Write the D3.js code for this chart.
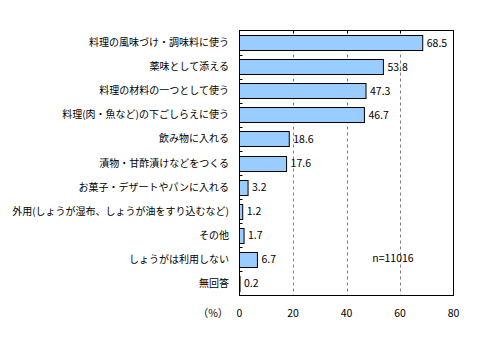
<!DOCTYPE html>
<html><head><meta charset="utf-8">
<script src="https://cdn.jsdelivr.net/npm/d3@7"></script>
<style>
body{margin:0;background:#fff;}
text{font-family:"Noto Sans CJK JP","Noto Sans",sans-serif;fill:#000;}
</style></head>
<body><svg id="c" width="493" height="340"></svg>
<script>
const categories = ["料理の風味づけ・調味料に使う","薬味として添える","料理の材料の一つとして使う","料理(肉・魚など)の下ごしらえに使う","飲み物に入れる","漬物・甘酢漬けなどをつくる","お菓子・デザートやパンに入れる","外用(しょうが湿布、しょうが油をすり込むなど)","その他","しょうがは利用しない","無回答"];
const values = [68.5,53.8,47.3,46.7,18.6,17.6,3.2,1.2,1.7,6.7,0.2];
const xTicks = [0,20,40,60,80];
const note = "n=11016";
const unit = "（%）";

const svg = d3.select("#c");
const L=239.5, R=453.5, T=30.5, B=295.5;
const x = d3.scaleLinear().domain([0,80]).range([L,R]);
const y = d3.scaleBand().domain(categories).range([T,B]).paddingInner(0.38).paddingOuter(0.19);
const yb = d3.scaleBand().domain(categories).range([T,B]);

svg.append("g").selectAll("line").data(xTicks.filter(d=>d>0&&d<80)).join("line")
  .attr("x1",d=>Math.round(x(d))+0.5).attr("x2",d=>Math.round(x(d))+0.5)
  .attr("y1",T).attr("y2",B).attr("stroke","#808080").attr("stroke-dasharray","3,3");

svg.append("g").selectAll("rect").data(values).join("rect")
  .attr("x",x(0)).attr("y",(d,i)=>Math.round(y(categories[i]))+0.5)
  .attr("width",d=>x(d)-x(0)).attr("height",Math.round(y.bandwidth()))
  .attr("fill","#99CCFF").attr("stroke","#000").attr("stroke-width",1);

svg.append("rect").attr("x",L).attr("y",T).attr("width",R-L).attr("height",B-T)
  .attr("fill","none").attr("stroke","#000");

svg.append("g").selectAll("line").data(xTicks.filter(d=>d>0&&d<80)).join("line")
  .attr("x1",d=>Math.round(x(d))+0.5).attr("x2",d=>Math.round(x(d))+0.5)
  .attr("y1",T).attr("y2",T+3).attr("stroke","#000");
svg.append("g").selectAll("line").data(categories.slice(1)).join("line")
  .attr("x1",L).attr("x2",L+3)
  .attr("y1",d=>Math.round(yb(d))+0.5).attr("y2",d=>Math.round(yb(d))+0.5).attr("stroke","#000");

svg.append("g").selectAll("text").data(categories).join("text")
  .attr("x",229).attr("y",d=>yb(d)+yb.bandwidth()/2).attr("dy","0.35em")
  .attr("text-anchor","end").attr("font-size",10).text(d=>d);

svg.append("g").selectAll("text").data(values).join("text")
  .attr("x",d=>x(d)+4).attr("y",(d,i)=>yb(categories[i])+yb.bandwidth()/2).attr("dy","0.38em")
  .attr("font-size",10.5).text(d=>d.toFixed(1));

svg.append("g").selectAll("text").data(xTicks).join("text")
  .attr("x",d=>x(d)).attr("y",313).attr("dy","0.35em").attr("text-anchor","middle")
  .attr("font-size",10.5).text(d=>d);
svg.append("text").attr("x",213).attr("y",313).attr("dy","0.35em").attr("text-anchor","middle")
  .attr("font-size",10.5).text(unit);
svg.append("text").attr("x",393).attr("y",258).attr("dy","0.35em").attr("text-anchor","middle")
  .attr("font-size",10.5).text(note);
</script></body></html>
